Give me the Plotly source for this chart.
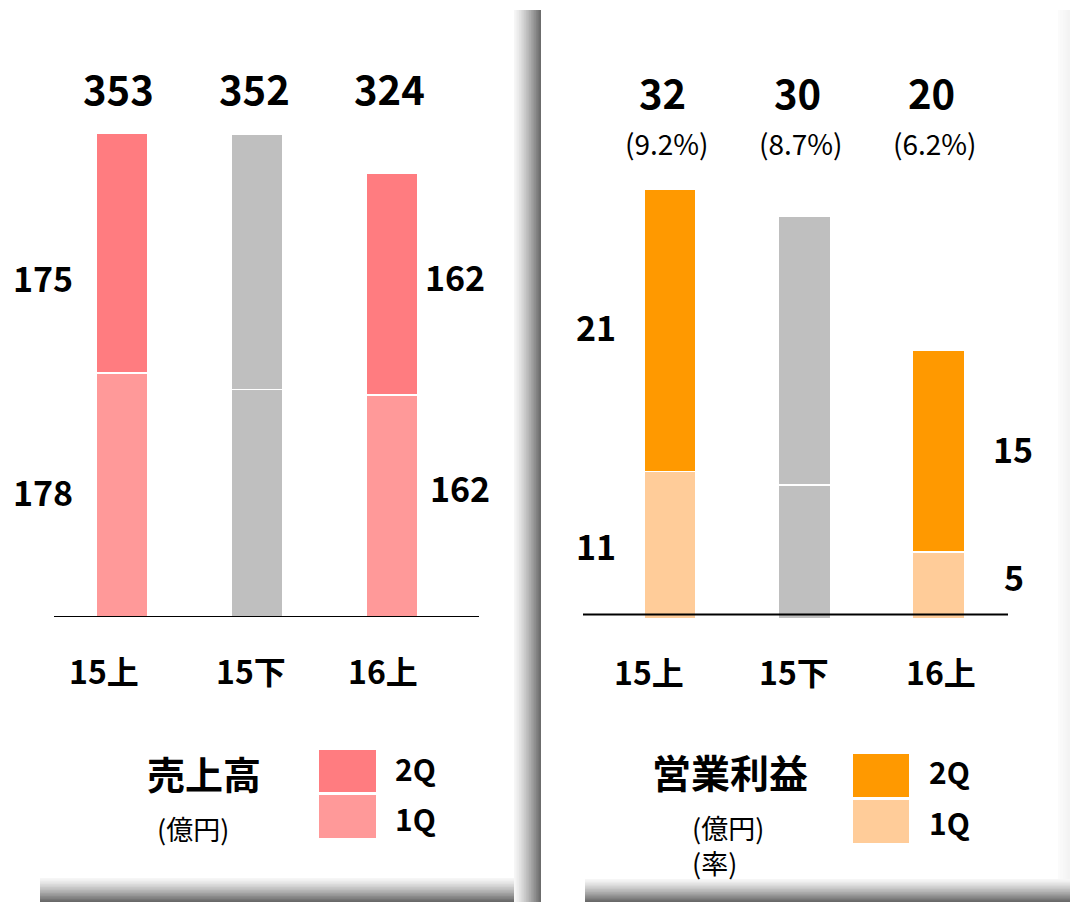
import plotly.graph_objects as go

# ---------------- data ----------------
categories = ["15上", "15下", "16上"]
sales_1q = [178, 166, 162]
sales_2q = [175, 186, 162]
profit_1q = [11, 10, 5]
profit_2q = [21, 20, 15]
profit_rate = ["(9.2%)", "(8.7%)", "(6.2%)"]
legend_labels = ["2Q", "1Q"]

# ---------------- style ----------------
FONT = "Noto Sans CJK JP"
W, H = 1070, 902
SALES_2Q_C = "#FF7C80"
SALES_1Q_C = "#FF9999"
PROF_2Q_C = "#FF9900"
PROF_1Q_C = "#FFCC99"
GRAY = "#BFBFBF"

def px(x):
    return x / W

def py(y):
    return 1 - y / H

def colors(c):
    return [GRAY if cat == "15下" else c for cat in categories]

fig = go.Figure()

# sales bars (left)
fig.add_bar(x=categories, y=sales_1q, xaxis="x", yaxis="y", width=0.38,
            marker=dict(color=colors(SALES_1Q_C), line=dict(color="white", width=1.5)))
fig.add_bar(x=categories, y=sales_2q, xaxis="x", yaxis="y", width=0.38,
            marker=dict(color=colors(SALES_2Q_C), line=dict(color="white", width=1.5)))
# profit bars (right)
fig.add_bar(x=categories, y=profit_1q, xaxis="x2", yaxis="y2", width=0.39,
            marker=dict(color=colors(PROF_1Q_C), line=dict(color="white", width=1.5)))
fig.add_bar(x=categories, y=profit_2q, xaxis="x2", yaxis="y2", width=0.39,
            marker=dict(color=colors(PROF_2Q_C), line=dict(color="white", width=1.5)))

ann = []
def A(**kw):
    d = dict(showarrow=False, xanchor="center", yanchor="middle",
             font=dict(family=FONT, size=30, color="black"))
    f = kw.pop("font", None)
    if f:
        d["font"] = dict(d["font"], **f)
    d.update(kw)
    ann.append(d)

sales_tot = [a + b for a, b in zip(sales_1q, sales_2q)]
prof_tot = [a + b for a, b in zip(profit_1q, profit_2q)]

# totals
for c, t in zip(categories, sales_tot):
    A(x=c, y=385.5, xref="x", yref="y", text=f"<b>{t}</b>", xshift=-3,
      font=dict(size=40))
for c, t, r in zip(categories, prof_tot, profit_rate):
    A(x=c, y=39.27, xref="x2", yref="y2", text=f"<b>{t}</b>", xshift=-7,
      font=dict(size=40))
    A(x=c, y=35.5, xref="x2", yref="y2", text=r, xshift=-3,
      font=dict(size=28))

# side labels (first and last bars)
A(x=categories[0], y=247.3, xref="x", yref="y", text=f"<b>{sales_2q[0]}</b>", xshift=-79, font=dict(size=34))
A(x=categories[0], y=91.2, xref="x", yref="y", text=f"<b>{sales_1q[0]}</b>", xshift=-79, font=dict(size=34))
A(x=categories[2], y=248.7, xref="x", yref="y", text=f"<b>{sales_2q[2]}</b>", xshift=63, font=dict(size=34))
A(x=categories[2], y=94.8, xref="x", yref="y", text=f"<b>{sales_1q[2]}</b>", xshift=68, font=dict(size=34))
A(x=categories[0], y=21.76, xref="x2", yref="y2", text=f"<b>{profit_2q[0]}</b>", xshift=-74, font=dict(size=34))
A(x=categories[0], y=5.51, xref="x2", yref="y2", text=f"<b>{profit_1q[0]}</b>", xshift=-74, font=dict(size=34))
A(x=categories[2], y=12.74, xref="x2", yref="y2", text=f"<b>{profit_2q[2]}</b>", xshift=75, font=dict(size=34))
A(x=categories[2], y=3.13, xref="x2", yref="y2", text=f"<b>{profit_1q[2]}</b>", xshift=76, font=dict(size=34))

# category labels
for c, s in zip(categories, [-18, -6, -9]):
    A(x=c, y=py(670), xref="x", yref="paper", text=f"<b>{c}</b>", xshift=s, font=dict(size=32))
for c, s in zip(categories, [-21, -10, 3]):
    A(x=c, y=py(671), xref="x2", yref="paper", text=f"<b>{c}</b>", xshift=s, font=dict(size=32))

# legend blocks
A(x=px(204), y=py(772), xref="paper", yref="paper", text="<b>売上高</b>", font=dict(size=38))
A(x=px(155), y=py(828), xref="paper", yref="paper", text="(億円)", xanchor="left", font=dict(size=27))
A(x=px(730), y=py(771), xref="paper", yref="paper", text="<b>営業利益</b>", font=dict(size=39))
A(x=px(690), y=py(845), xref="paper", yref="paper", text="(億円)<br>(率)", xanchor="left",
  align="left", font=dict(size=27))
A(x=px(393), y=py(768), xref="paper", yref="paper", text=f"<b>{legend_labels[0]}</b>", xanchor="left", font=dict(size=30))
A(x=px(393), y=py(818), xref="paper", yref="paper", text=f"<b>{legend_labels[1]}</b>", xanchor="left", font=dict(size=30))
A(x=px(927), y=py(771), xref="paper", yref="paper", text=f"<b>{legend_labels[0]}</b>", xanchor="left", font=dict(size=30))
A(x=px(927), y=py(822), xref="paper", yref="paper", text=f"<b>{legend_labels[1]}</b>", xanchor="left", font=dict(size=30))

shapes = []
def rect(x0, y0, x1, y1, color):
    shapes.append(dict(type="rect", xref="paper", yref="paper",
                       x0=px(x0), x1=px(x1), y0=py(y1), y1=py(y0),
                       fillcolor=color, line=dict(width=0), layer="below"))

def gray(v):
    v = int(round(v))
    return f"rgb({v},{v},{v})"

# legend swatches
rect(319, 750, 376, 792, SALES_2Q_C)
rect(319, 795, 376, 838, SALES_1Q_C)
rect(853, 754, 909, 797, PROF_2Q_C)
rect(853, 800, 909, 843, PROF_1Q_C)

# shadows (overlapping rects, light to dark, to avoid seams)
N = 16
# left panel bottom shadow
for i in range(N):
    y0 = 878 + (902 - 878) * i / N
    rect(40, y0, 541, 902, gray(250 - (250 - 105) * ((i + 1) / N) ** 1.3))
# left panel right shadow
for i in range(N):
    x0 = 514 + (541 - 514) * i / N
    rect(x0, 10, 541, 902, gray(250 - (250 - 108) * ((i + 1) / N) ** 1.3))
# right panel right shadow (very faint)
for i in range(5):
    x0 = 1058 + 12 * i / 5
    rect(x0, 10, 1070, 880, gray(253 - 10 * (i + 1) / 5))
# right panel bottom shadow
for i in range(N):
    y0 = 879 + (902 - 879) * i / N
    rect(585, y0, 1070, 902, gray(250 - (250 - 105) * ((i + 1) / N) ** 1.3))

# baselines
shapes.append(dict(type="line", xref="x domain", yref="y", x0=0, x1=1, y0=0, y1=0,
                   line=dict(color="black", width=2.2), layer="above"))
shapes.append(dict(type="line", xref="x2 domain", yref="y2", x0=0, x1=1, y0=0.335, y1=0.335,
                   line=dict(color="black", width=1.8), layer="above"))

axis_common = dict(showgrid=False, zeroline=False, showticklabels=False, ticks="",
                   showline=False, fixedrange=True)

fig.update_layout(
    width=W, height=H,
    margin=dict(l=0, r=0, t=0, b=0),
    paper_bgcolor="white", plot_bgcolor="rgba(0,0,0,0)",
    barmode="stack", showlegend=False,
    xaxis=dict(domain=[px(54), px(479)], range=[-0.5, 2.64], type="category", anchor="y", **axis_common),
    yaxis=dict(domain=[py(617), 1], range=[0, 450], anchor="x", **axis_common),
    xaxis2=dict(domain=[px(583), px(1008)], range=[-0.648, 2.518], type="category", anchor="y2", **axis_common),
    yaxis2=dict(domain=[py(619), 1], range=[0, 46.12], anchor="x2", **axis_common),
    annotations=ann,
    shapes=shapes,
)

fig.write_html("out.html")
